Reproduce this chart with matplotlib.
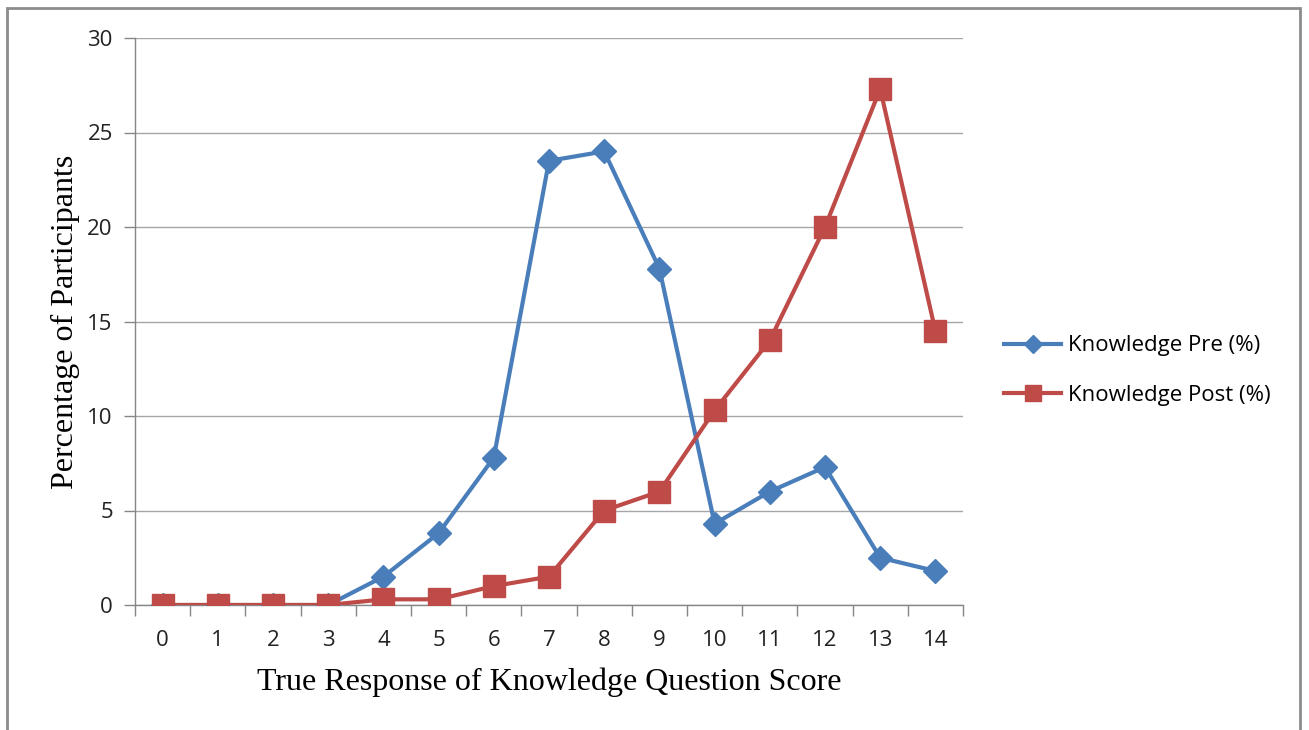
import matplotlib
matplotlib.use('Agg')
import matplotlib.pyplot as plt
from matplotlib.patches import Rectangle

# ==================== data ====================
scores = list(range(15))
pre_pct = [0, 0, 0, 0, 1.5, 3.8, 7.8, 23.5, 24.0, 17.8, 4.3, 6.0, 7.3, 2.5, 1.8]
post_pct = [0, 0, 0, 0, 0.3, 0.3, 1.0, 1.5, 5.0, 6.0, 10.3, 14.0, 20.0, 27.3, 14.5]
series_names = ['Knowledge Pre (%)', 'Knowledge Post (%)']

blue = '#4a7ebb'
red = '#be4b48'
axis_gray = '#868686'
tick_font = ['Open Sans', 'DejaVu Sans']
label_font = ['Liberation Serif', 'DejaVu Serif']

fig = plt.figure(figsize=(13.09, 7.30), dpi=100)
ax = fig.add_axes([135 / 1309, 1 - 605 / 730, (963 - 135) / 1309, (605 - 38) / 730])

ax.plot(scores, pre_pct, color=blue, lw=3, marker='D', markersize=12.5,
        label=series_names[0], zorder=3)
ax.plot(scores, post_pct, color=red, lw=3, marker='s', markersize=16,
        label=series_names[1], zorder=4)

ax.set_xlim(-0.5, 14.5)
ax.set_ylim(0, 30)
ax.set_yticks(range(0, 31, 5))
ax.set_xticks(scores)
ax.set_xticks([s - 0.5 for s in scores] + [14.5], minor=True)
ax.tick_params(axis='x', which='major', length=0, pad=18)
ax.tick_params(axis='x', which='minor', length=8, width=1, color=axis_gray)
ax.tick_params(axis='y', length=8, width=1, color=axis_gray, pad=8)
ax.grid(axis='y', color='#a6a6a6', lw=1)
ax.set_axisbelow(True)
for side in ['top', 'right']:
    ax.spines[side].set_visible(False)
for side in ['left', 'bottom']:
    ax.spines[side].set_color(axis_gray)
    ax.spines[side].set_linewidth(1)

for lbl in ax.get_xticklabels() + ax.get_yticklabels():
    lbl.set_fontfamily(tick_font)
    lbl.set_fontsize(16)
    lbl.set_color('#222222')

ax.set_xlabel('True Response of Knowledge Question Score', family=label_font,
              fontsize=23, labelpad=12)
ax.set_ylabel('Percentage of Participants', family=label_font,
              fontsize=23, labelpad=5)

# legend: smaller markers, like the spreadsheet legend
leg = ax.legend(loc='center left', bbox_to_anchor=(1.025, 0.413), frameon=False,
                prop={'family': tick_font, 'size': 16}, handlelength=2.6,
                labelspacing=1.3, handletextpad=0.3, markerscale=0.75)

# outer chart frame
fig.patches.append(Rectangle((7 / 1309, -0.05), (1300 - 7) / 1309, 1 - 8 / 730 + 0.05,
                             transform=fig.transFigure, fill=False,
                             edgecolor='#8c8c8c', lw=2))

plt.savefig('out.png', dpi=100, facecolor='white')
